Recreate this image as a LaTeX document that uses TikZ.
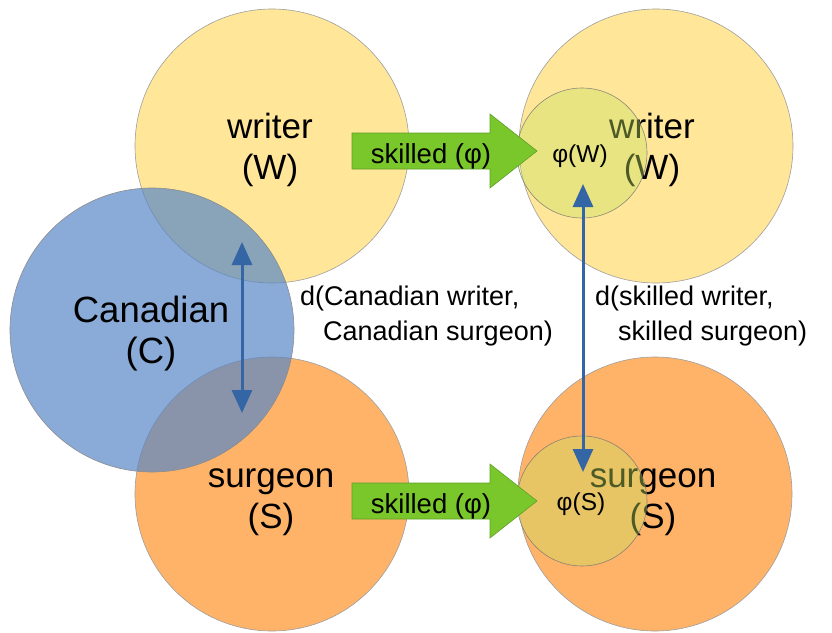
\documentclass[tikz,border=0pt]{standalone}
\usepackage{fontspec}
\setmainfont{Liberation Sans}
\usetikzlibrary{arrows.meta}

\definecolor{writerfill}{RGB}{255,230,153}
\definecolor{surgeonfill}{RGB}{255,179,105}
\definecolor{canadafill}{RGB}{88,135,198}
\definecolor{phifill}{RGB}{195,225,95}
\definecolor{skillgreen}{RGB}{121,199,42}
\definecolor{skillgreenedge}{RGB}{98,158,40}
\definecolor{distblue}{RGB}{52,101,164}

\begin{document}
\begin{tikzpicture}[x=1pt,y=-1pt,
  bigset/.style={circle, draw=black!38, line width=0.6pt, inner sep=0pt, minimum size=274pt},
  canset/.style={circle, draw=black!45, line width=0.6pt, inner sep=0pt, minimum size=284pt,
    fill=canadafill, fill opacity=0.7},
  phiset/.style={circle, draw=black!55, draw opacity=0.8, line width=0.6pt, inner sep=0pt,
    minimum size=130pt, fill=phifill, fill opacity=0.4},
  biglabel/.style={align=center, anchor=base, inner sep=0pt,
    font=\fontsize{35}{41}\selectfont},
  philabel/.style={anchor=base, inner sep=0pt, font=\fontsize{24.5}{28}\selectfont},
  skilllabel/.style={anchor=base, inner sep=0pt, font=\fontsize{27.5}{31}\selectfont},
  distlabel/.style={align=left, anchor=base west, inner sep=0pt,
    font=\fontsize{27}{35}\selectfont},
  skillarrow/.style={fill=skillgreen, draw=skillgreenedge, line width=0.6pt},
  distarrow/.style={draw=distblue, line width=3pt,
    {Triangle[width=20pt,length=23pt]}-{Triangle[width=20pt,length=23pt]}}
]
\useasboundingbox (0,0) rectangle (832,632);

% base sets
\node[bigset, fill=writerfill]  (W)  at (272,146) {};
\node[bigset, fill=surgeonfill] (S)  at (272,494) {};
\node[bigset, fill=writerfill]  (W2) at (656,146) {};
\node[bigset, fill=surgeonfill] (S2) at (655,494) {};

% the Canadian set, lying over both
\node[canset] (C) at (152,330) {};

% set names (placed by the baseline of their last line)
\node[biglabel] (Wl)  at (270,179) {writer\\(W)};
\node[biglabel] (Sl)  at (271,528) {surgeon\\(S)};
\node[biglabel, font=\fontsize{36.5}{41}\selectfont] (Cl) at (151,363) {Canadian\\(C)};
\node[biglabel] (W2l) at (652,179) {writer\\(W)};
\node[biglabel] (S2l) at (653,528) {surgeon\\(S)};

% images under phi, tinted over the set names
\node[phiset] (PW) at (582,153) {};
\node[phiset] (PS) at (582,501) {};
\node[philabel] (PWl) at (580,162) {φ(W)};
\node[philabel] (PSl) at (581,510) {φ(S)};

% block arrows for the modifier
\path[skillarrow] (352,133) -- (490,133) -- (490,114) -- (537,151)
  -- (490,188) -- (490,169) -- (352,169) -- cycle;
\node[skilllabel] (k1) at (431,163) {skilled (φ)};
\path[skillarrow] (352,483) -- (490,483) -- (490,464) -- (537,501)
  -- (490,538) -- (490,519) -- (352,519) -- cycle;
\node[skilllabel] (k2) at (431,513) {skilled (φ)};

% distances
\coordinate (cw) at (242,242);
\coordinate (cs) at (242,413);
\draw[distarrow] (cw) -- (cs);
\coordinate (pw) at (583,184);
\coordinate (ps) at (583,472);
\draw[distarrow] (pw) -- (ps);

\node[distlabel] (d1) at (300,340) {d(Canadian writer,\\\hspace*{23pt}Canadian surgeon)};
\node[distlabel] (d2) at (595,340) {d(skilled writer,\\\hspace*{23pt}skilled surgeon)};
\end{tikzpicture}
\end{document}
